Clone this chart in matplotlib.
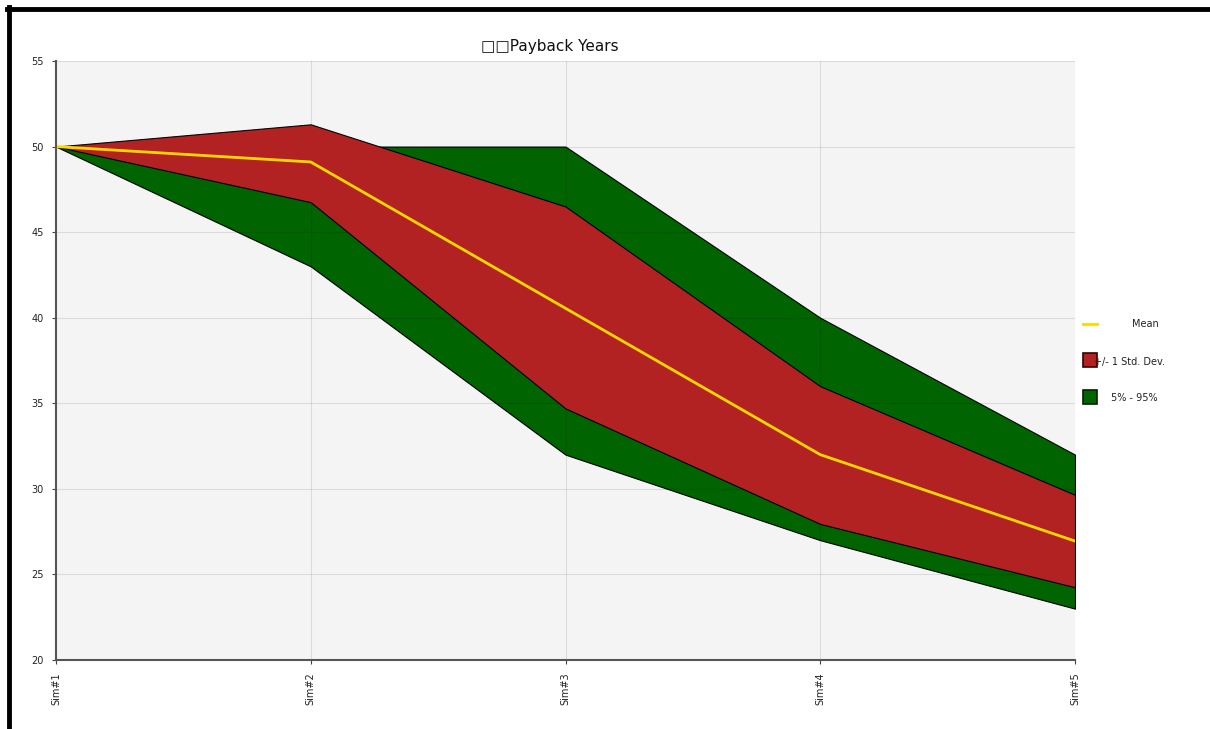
import matplotlib
matplotlib.use("Agg")
import matplotlib.pyplot as plt
from matplotlib.lines import Line2D
from matplotlib.patches import Rectangle

categories = ["Sim#1", "Sim#2", "Sim#3", "Sim#4", "Sim#5"]
mean = [50.0, 49.1, 40.55, 32.0, 26.95]
std_upper = [50.0, 51.3, 46.5, 36.0, 29.65]
std_lower = [50.0, 46.75, 34.7, 27.95, 24.25]
p95 = [50.0, 50.0, 50.0, 40.0, 32.0]
p5 = [50.0, 43.0, 32.0, 27.0, 23.0]
yticks = [20, 25, 30, 35, 40, 45, 50, 55]

W, H = 1210, 729
fig = plt.figure(figsize=(W / 100, H / 100), dpi=100)
fig.patch.set_facecolor("white")
ax = fig.add_axes([56 / W, 1 - 660 / H, (1075 - 56) / W, (660 - 61) / H])
ax.set_facecolor("#f4f4f4")

x = list(range(len(categories)))
ax.fill_between(x, p5, p95, facecolor="#006400", edgecolor="black", linewidth=0.8, zorder=2)
ax.fill_between(x, std_lower, std_upper, facecolor="#b22222", edgecolor="black", linewidth=0.8, zorder=3)
ax.plot(x, mean, color="#ffd700", linewidth=2, zorder=5)

ax.set_xlim(0, len(categories) - 1)
ax.set_ylim(20, 55)
ax.set_yticks(yticks)
ax.set_yticklabels([str(v) for v in yticks], fontsize=7, color="#222222")
ax.set_xticks(x)
ax.set_xticklabels(categories, rotation=90, fontsize=7, color="#222222")
ax.tick_params(axis="both", length=3, width=0.8, color="#444444", pad=6)
ax.tick_params(axis="x", pad=6)
ax.grid(True, color="black", alpha=0.1, linewidth=0.8, zorder=4)
ax.set_axisbelow(False)
for s in ["top", "right"]:
    ax.spines[s].set_visible(False)
for s in ["left", "bottom"]:
    ax.spines[s].set_color("#555555")
    ax.spines[s].set_linewidth(1.5)
    ax.spines[s].set_zorder(6)

fig.text(550 / W, 1 - 47 / H, "\u25a1\u25a1Payback Years", ha="center", va="center",
         fontsize=11, color="#111111")

# legend (manual, outside right)
fig.add_artist(Line2D([1083 / W, 1097 / W], [1 - 324 / H, 1 - 324 / H], color="#ffd700", linewidth=2))
fig.text(1145 / W, 1 - 324 / H, "Mean", ha="center", va="center", fontsize=7, color="#222222")
fig.add_artist(Rectangle((1083 / W, 1 - 367 / H), 14 / W, 14 / H, facecolor="#b22222",
                         edgecolor="#3a0000", linewidth=1.2))
fig.text(1130 / W, 1 - 362 / H, "+/- 1 Std. Dev.", ha="center", va="center", fontsize=7, color="#222222")
fig.add_artist(Rectangle((1083 / W, 1 - 404 / H), 14 / W, 14 / H, facecolor="#006400",
                         edgecolor="#002000", linewidth=1.2))
fig.text(1134 / W, 1 - 398 / H, "5% - 95%", ha="center", va="center", fontsize=7, color="#222222")

# outer black frame
fig.add_artist(Line2D([7 / W, 1], [1 - 9 / H, 1 - 9 / H], color="black", linewidth=3.5))
fig.add_artist(Line2D([9 / W, 9 / W], [1 - 7 / H, 0], color="black", linewidth=3.5))

fig.savefig("out.png", dpi=100)
